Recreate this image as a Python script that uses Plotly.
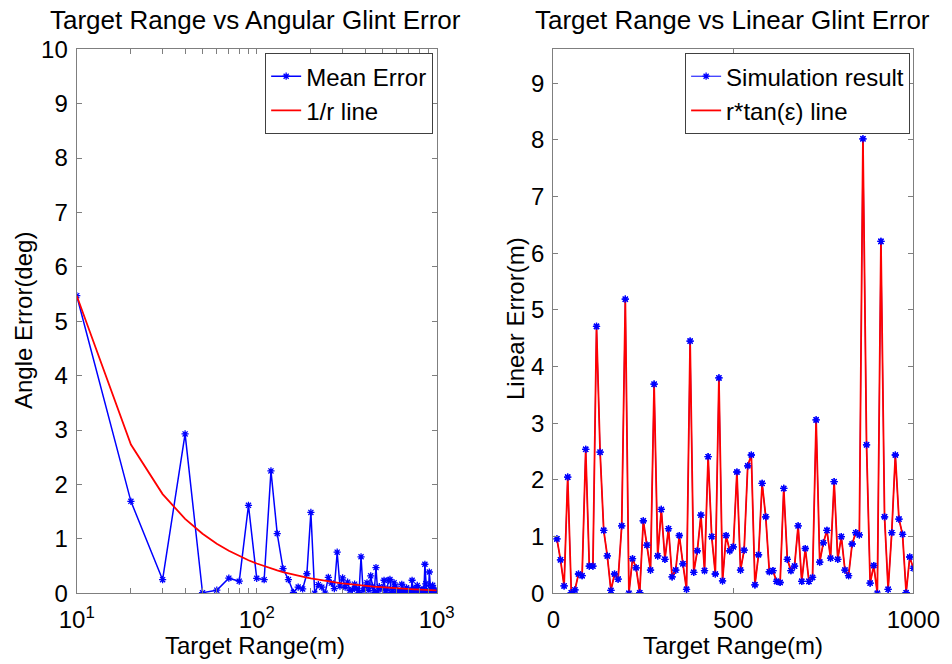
import plotly.graph_objects as go

# Target ranges (m)
ranges = [10, 20, 30, 40, 50, 60, 70, 80, 90, 100,
          110, 120, 130, 140, 150, 160, 170, 180, 190, 200,
          210, 220, 230, 240, 250, 260, 270, 280, 290, 300,
          310, 320, 330, 340, 350, 360, 370, 380, 390, 400,
          410, 420, 430, 440, 450, 460, 470, 480, 490, 500,
          510, 520, 530, 540, 550, 560, 570, 580, 590, 600,
          610, 620, 630, 640, 650, 660, 670, 680, 690, 700,
          710, 720, 730, 740, 750, 760, 770, 780, 790, 800,
          810, 820, 830, 840, 850, 860, 870, 880, 890, 900,
          910, 920, 930, 940, 950, 960, 970, 980, 990, 1000]

# Mean angular glint error (deg)
mean_error = [5.47, 1.69, 0.25, 2.93, 0.01, 0.057, 0.278, 0.222, 1.617, 0.275,
              0.250, 2.249, 1.097, 0.454, 0.252, 0.018, 0.115, 0.080, 0.359, 1.487,
              0.0, 0.159, 0.112, 0.002, 0.293, 0.187, 0.087, 0.755, 0.130, 0.283,
              0.111, 0.204, 0.050, 0.069, 0.167, 0.083, 0.011, 0.671, 0.054, 0.107,
              0.193, 0.055, 0.321, 0.130, 0.043, 0.473, 0.027, 0.122, 0.088, 0.094,
              0.240, 0.045, 0.082, 0.239, 0.254, 0.015, 0.068, 0.192, 0.131, 0.036,
              0.038, 0.019, 0.017, 0.166, 0.053, 0.035, 0.041, 0.100, 0.017, 0.065,
              0.017, 0.022, 0.240, 0.043, 0.068, 0.084, 0.046, 0.145, 0.044, 0.072,
              0.029, 0.022, 0.060, 0.073, 0.069, 0.534, 0.173, 0.012, 0.032, 0.0,
              0.391, 0.084, 0.004, 0.065, 0.147, 0.078, 0.061, 0.001, 0.037, 0.025]

# Linear glint error (m)
linear_error = [0.96, 0.59, 0.13, 2.05, 0.01, 0.06, 0.34, 0.31, 2.54, 0.48,
                0.48, 4.71, 2.49, 1.11, 0.66, 0.05, 0.34, 0.25, 1.19, 5.19,
                0.0, 0.61, 0.45, 0.01, 1.28, 0.85, 0.41, 3.69, 0.66, 1.48,
                0.60, 1.14, 0.29, 0.41, 1.02, 0.52, 0.07, 4.45, 0.37, 0.75,
                1.38, 0.40, 2.41, 1.00, 0.34, 3.80, 0.22, 1.02, 0.75, 0.82,
                2.14, 0.41, 0.76, 2.25, 2.44, 0.15, 0.68, 1.94, 1.35, 0.38,
                0.40, 0.21, 0.19, 1.85, 0.60, 0.40, 0.48, 1.19, 0.21, 0.79,
                0.21, 0.28, 3.06, 0.55, 0.89, 1.11, 0.62, 1.97, 0.60, 1.00,
                0.41, 0.31, 0.87, 1.07, 1.03, 8.02, 2.62, 0.18, 0.49, 0.0,
                6.21, 1.35, 0.07, 1.07, 2.44, 1.31, 1.04, 0.01, 0.64, 0.44]

# 1/r reference line constant (deg*m), read from the first point
inv_r_const = 54.7
inv_r_line = [inv_r_const / r for r in ranges]

left_xtick_vals = [10, 20, 30, 40, 50, 60, 70, 80, 90, 100,
                   200, 300, 400, 500, 600, 700, 800, 900, 1000]
left_xtick_text = ["10<sup>1</sup>", "", "", "", "", "", "", "", "", "10<sup>2</sup>",
                   "", "", "", "", "", "", "", "", "10<sup>3</sup>"]

FONT = "Liberation Sans, Arial, sans-serif"
AX = "#7f7f7f"
BLUE = "#0000ff"
RED = "#ff0000"

star = dict(symbol="asterisk-open", size=6, color=BLUE, line=dict(color=BLUE, width=1.3))

fig = go.Figure()

fig.add_trace(go.Scatter(
    x=ranges, y=mean_error, mode="lines+markers", name="Mean Error",
    line=dict(color=BLUE, width=1.5), marker=star,
    xaxis="x", yaxis="y", legend="legend"))
fig.add_trace(go.Scatter(
    x=ranges, y=inv_r_line, mode="lines", name="1/r line",
    line=dict(color=RED, width=1.8),
    xaxis="x", yaxis="y", legend="legend"))

fig.add_trace(go.Scatter(
    x=ranges, y=linear_error, mode="lines+markers", name="Simulation result",
    line=dict(color=BLUE, width=1.0), marker=star,
    xaxis="x2", yaxis="y2", legend="legend2"))
fig.add_trace(go.Scatter(
    x=ranges, y=linear_error, mode="lines", name="r*tan(\u03b5) line",
    line=dict(color=RED, width=1.8),
    xaxis="x2", yaxis="y2", legend="legend2"))
fig.add_trace(go.Scatter(
    x=ranges, y=linear_error, mode="markers", showlegend=False, marker=star,
    xaxis="x2", yaxis="y2", hoverinfo="skip"))

axis_common = dict(showline=True, linecolor=AX, linewidth=1.3, mirror="ticks",
                   ticks="inside", tickcolor=AX, ticklen=5, showgrid=False,
                   zeroline=False, automargin=False,
                   tickfont=dict(family=FONT, size=24, color="black"))

TITLE_Y = 1 - 20 / 664
XLAB_Y = 1 - 645 / 664

fig.update_layout(
    template="none",
    width=952, height=664, autosize=False,
    margin=dict(l=0, r=0, t=0, b=0, pad=0, autoexpand=False),
    paper_bgcolor="white", plot_bgcolor="white",
    font=dict(family=FONT, color="black"),
    xaxis=dict(domain=[0.0806, 0.4587], type="log", range=[1, 3],
               tickvals=left_xtick_vals, ticktext=left_xtick_text,
               ticklabelstandoff=5, anchor="y", **axis_common),
    yaxis=dict(domain=[0.1065, 0.9258], range=[0, 10], dtick=1,
               ticklabelstandoff=3, anchor="x", **axis_common),
    xaxis2=dict(domain=[0.5812, 0.9594], range=[0, 1000], tickvals=[0, 500, 1000],
                ticklabelstandoff=5, anchor="y2", **axis_common),
    yaxis2=dict(domain=[0.1065, 0.9258], range=[0, 9.6], tickvals=list(range(10)),
                ticklabelstandoff=3, anchor="x2", **axis_common),
    legend=dict(x=0.455, y=0.920, xanchor="right", yanchor="top",
                bgcolor="white", bordercolor="#404040", borderwidth=1,
                font=dict(family=FONT, size=24), tracegroupgap=0, itemwidth=30),
    legend2=dict(x=0.956, y=0.920, xanchor="right", yanchor="top",
                 bgcolor="white", bordercolor="#404040", borderwidth=1,
                 font=dict(family=FONT, size=24), tracegroupgap=0, itemwidth=30),
    annotations=[
        dict(text="Target Range vs Angular Glint Error", x=0.268, y=TITLE_Y,
             xref="paper", yref="paper", xanchor="center", yanchor="middle",
             showarrow=False, font=dict(family=FONT, size=26, color="black")),
        dict(text="Target Range vs Linear Glint Error", x=0.769, y=TITLE_Y,
             xref="paper", yref="paper", xanchor="center", yanchor="middle",
             showarrow=False, font=dict(family=FONT, size=26, color="black")),
        dict(text="Target Range(m)", x=0.268, y=XLAB_Y,
             xref="paper", yref="paper", xanchor="center", yanchor="middle",
             showarrow=False, font=dict(family=FONT, size=24, color="black")),
        dict(text="Target Range(m)", x=0.770, y=XLAB_Y,
             xref="paper", yref="paper", xanchor="center", yanchor="middle",
             showarrow=False, font=dict(family=FONT, size=24, color="black")),
        dict(text="Angle Error(deg)", x=23 / 952, y=1 - 321 / 664, textangle=-90,
             xref="paper", yref="paper", xanchor="center", yanchor="middle",
             showarrow=False, font=dict(family=FONT, size=24, color="black")),
        dict(text="Linear Error(m)", x=515 / 952, y=1 - 319 / 664, textangle=-90,
             xref="paper", yref="paper", xanchor="center", yanchor="middle",
             showarrow=False, font=dict(family=FONT, size=24, color="black")),
    ],
)

fig.write_html("out.html")
